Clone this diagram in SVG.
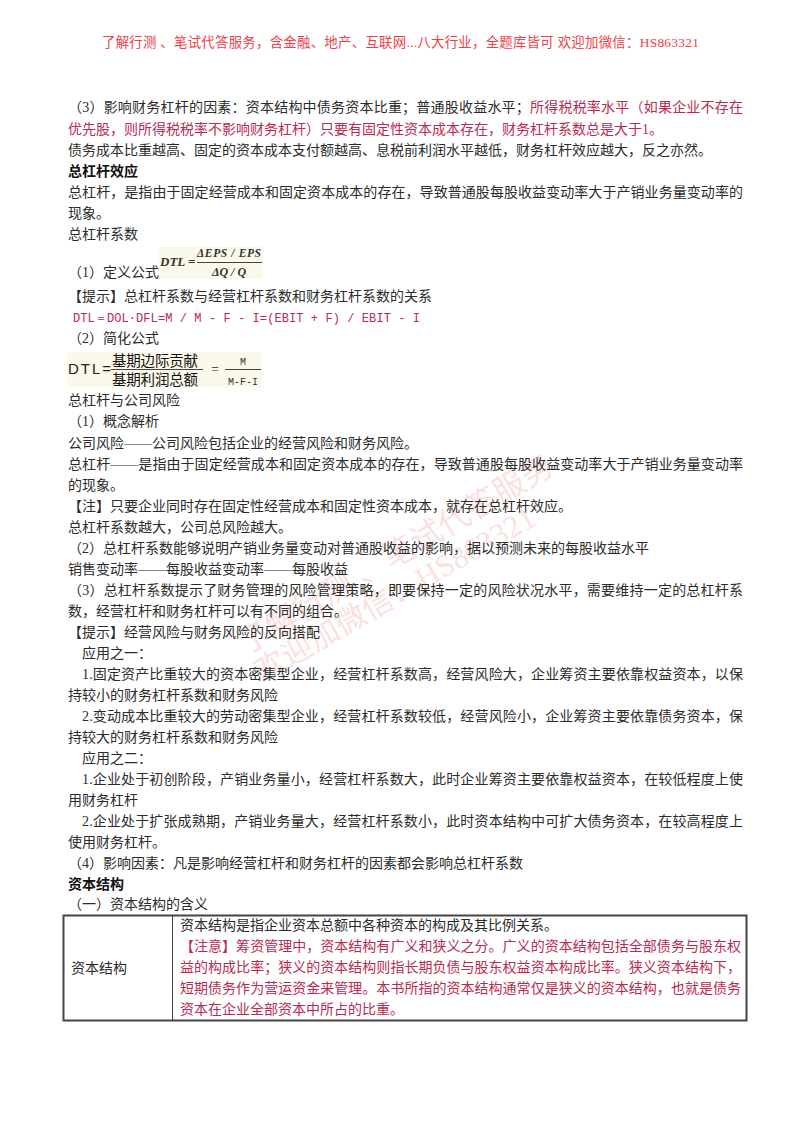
<svg xmlns="http://www.w3.org/2000/svg" width="800" height="1132" viewBox="0 0 800 1132">
<style>
text{font-family:"Liberation Serif","Noto Sans CJK SC",serif;font-size:14px;fill:#2b2b2b}
.r{fill:#b92b4e}
.b{font-weight:700;fill:#111}
.h{font-size:13.4px;fill:#f04048}
.w{fill:#f7a5a5;fill-opacity:.36}
.f{font-family:"Liberation Serif",serif;font-style:italic;font-weight:700;fill:#333}
.m{font-family:"Liberation Mono",monospace;font-size:12px}
.g{font-family:"Liberation Mono",monospace;font-size:10px;fill:#333}
.l{stroke:#444;stroke-width:1;fill:none}
</style>
<rect width="800" height="1132" fill="#fff"/>
<g id="watermark">
<text class="w" transform="translate(246 655) rotate(-30.5)" style="font-size:32px" xml:space="preserve">了解行测 、笔试代答服务</text>
<text class="w" transform="translate(262 683) rotate(-30)" style="font-size:31px">欢迎加微信：HS863321</text>
</g>
<g id="header"><text class="h" x="102" y="47" textLength="597" xml:space="preserve">了解行测 、笔试代答服务，含金融、地产、互联网...八大行业，全题库皆可 欢迎加微信：HS863321</text></g>
<g id="body">
<text x="68" y="112" textLength="675">（3）影响财务杠杆的因素：资本结构中债务资本比重；普通股收益水平；<tspan class="r">所得税税率水平（如果企业不存在</tspan></text>
<text class="r" x="68" y="134">优先股，则所得税税率不影响财务杠杆）只要有固定性资本成本存在，财务杠杆系数总是大于1。</text>
<text x="68" y="155">债务成本比重越高、固定的资本成本支付额越高、息税前利润水平越低，财务杠杆效应越大，反之亦然。</text>
<text class="b" x="68" y="176">总杠杆效应</text>
<text x="68" y="197" textLength="675">总杠杆，是指由于固定经营成本和固定资本成本的存在，导致普通股每股收益变动率大于产销业务量变动率的</text>
<text x="68" y="218">现象。</text>
<text x="68" y="239">总杠杆系数</text>
<text x="68" y="277">（1）定义公式</text>
<text x="68" y="301">【提示】总杠杆系数与经营杠杆系数和财务杠杆系数的关系</text>
<text class="m r" x="73" y="322" textLength="347">DTL＝DOL·DFL=M / M - F - I=(EBIT + F) / EBIT - I</text>
<text x="68" y="343">（2）简化公式</text>
<text x="68" y="405">总杠杆与公司风险</text>
<text x="68" y="426">（1）概念解析</text>
<text x="68" y="448">公司风险——公司风险包括企业的经营风险和财务风险。</text>
<text x="68" y="469" textLength="675">总杠杆——是指由于固定经营成本和固定资本成本的存在，导致普通股每股收益变动率大于产销业务量变动率</text>
<text x="68" y="490">的现象。</text>
<text x="68" y="511">【注】只要企业同时存在固定性经营成本和固定性资本成本，就存在总杠杆效应。</text>
<text x="68" y="532">总杠杆系数越大，公司总风险越大。</text>
<text x="68" y="553">（2）总杠杆系数能够说明产销业务量变动对普通股收益的影响，据以预测未来的每股收益水平</text>
<text x="68" y="574">销售变动率——每股收益变动率——每股收益</text>
<text x="68" y="595" textLength="675">（3）总杠杆系数提示了财务管理的风险管理策略，即要保持一定的风险状况水平，需要维持一定的总杠杆系</text>
<text x="68" y="616">数，经营杠杆和财务杠杆可以有不同的组合。</text>
<text x="68" y="637">【提示】经营风险与财务风险的反向搭配</text>
<text x="82" y="658">应用之一：</text>
<text x="82" y="679" textLength="661">1.固定资产比重较大的资本密集型企业，经营杠杆系数高，经营风险大，企业筹资主要依靠权益资本，以保</text>
<text x="68" y="700">持较小的财务杠杆系数和财务风险</text>
<text x="82" y="721" textLength="661">2.变动成本比重较大的劳动密集型企业，经营杠杆系数较低，经营风险小，企业筹资主要依靠债务资本，保</text>
<text x="68" y="742">持较大的财务杠杆系数和财务风险</text>
<text x="82" y="763">应用之二：</text>
<text x="82" y="784" textLength="661">1.企业处于初创阶段，产销业务量小，经营杠杆系数大，此时企业筹资主要依靠权益资本，在较低程度上使</text>
<text x="68" y="805">用财务杠杆</text>
<text x="82" y="826" textLength="661">2.企业处于扩张成熟期，产销业务量大，经营杠杆系数小，此时资本结构中可扩大债务资本，在较高程度上</text>
<text x="68" y="847">使用财务杠杆。</text>
<text x="68" y="868">（4）影响因素：凡是影响经营杠杆和财务杠杆的因素都会影响总杠杆系数</text>
<text class="b" x="68" y="889">资本结构</text>
<text x="68" y="909">（一）资本结构的含义</text>
</g>
<g id="formula-1">
<rect x="159" y="247" width="104" height="32" fill="#fbf9ea"/>
<text class="f" x="160" y="266" style="font-size:13px">DTL =</text>
<text class="f" x="229" y="257" text-anchor="middle" textLength="64" style="font-size:11.5px">ΔEPS / EPS</text>
<path class="l" d="M197 262.500H262"/>
<text class="f" x="229" y="276" text-anchor="middle" style="font-size:12px">ΔQ / Q</text>
</g>
<g id="formula-2">
<rect x="67" y="352" width="195" height="35" fill="#fbf9ea"/>
<text x="68" y="374" textLength="43" style="font-size:15px;font-family:'Liberation Sans',sans-serif;fill:#222">DTL=</text>
<text x="112" y="366" textLength="86" style="font-size:14.500px;fill:#111">基期边际贡献</text>
<path class="l" d="M111 369.500H203"/>
<text x="112" y="385" textLength="86" style="font-size:14.500px;fill:#111">基期利润总额</text>
<text x="211" y="374" style="font-size:14px">=</text>
<text class="g" x="243" y="365" text-anchor="middle">M</text>
<path class="l" d="M225 369.500H261"/>
<text class="g" x="243" y="385" text-anchor="middle">M-F-I</text>
</g>
<g id="table">
<rect x="63.500" y="915.500" width="683" height="105" fill="none" stroke="#444" stroke-width="2"/>
<path d="M172.500 916V1020" stroke="#444" stroke-width="1"/>
<text x="71" y="973">资本结构</text>
<text x="180" y="930">资本结构是指企业资本总额中各种资本的构成及其比例关系。</text>
<text class="r" x="180" y="951" textLength="561">【注意】筹资管理中，资本结构有广义和狭义之分。广义的资本结构包括全部债务与股东权</text>
<text class="r" x="180" y="972" textLength="561">益的构成比率；狭义的资本结构则指长期负债与股东权益资本构成比率。狭义资本结构下，</text>
<text class="r" x="180" y="993" textLength="561">短期债务作为营运资金来管理。本书所指的资本结构通常仅是狭义的资本结构，也就是债务</text>
<text class="r" x="180" y="1014">资本在企业全部资本中所占的比重。</text>
</g>
</svg>
